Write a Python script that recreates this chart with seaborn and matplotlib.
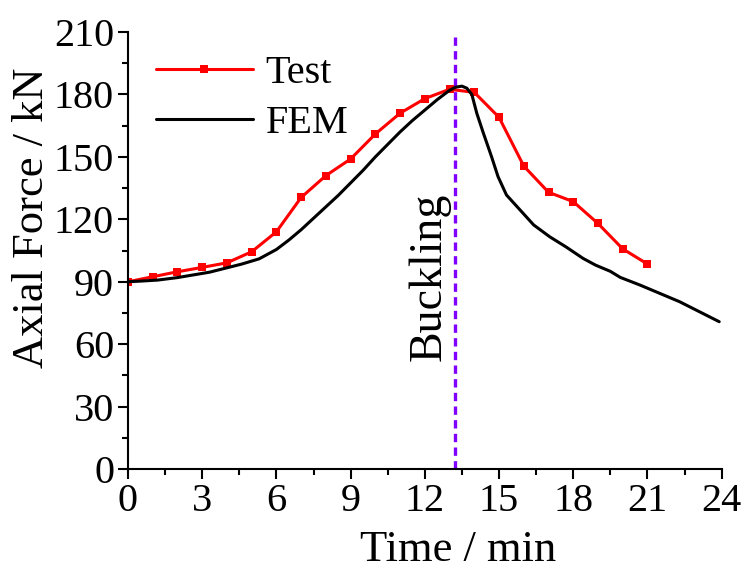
import matplotlib
matplotlib.use("Agg")
import matplotlib.pyplot as plt
import seaborn as sns
import pandas as pd
from matplotlib.ticker import MultipleLocator

# Data
test_time = [0, 1, 2, 3, 4, 5, 6, 7, 8, 9, 10, 11, 12, 13, 14, 15, 16, 17, 18, 19, 20, 21]
test_force = [90, 92.4, 94.8, 96.9, 99.1, 104.4, 114, 130.5, 141, 149, 161, 171, 178, 182.5, 181, 169, 145.6, 133, 128.5, 118, 105.8, 98.5]

fem_time = [0, 0.5, 1.2, 2.0, 2.6, 3.3, 3.9, 4.6, 5.3, 6.0, 6.5, 7.0, 7.5, 8.0, 8.5, 9.0, 9.5, 10.0, 10.5, 11.0, 11.5,
            12.0, 12.5, 13.0, 13.25, 13.5, 13.7, 13.9, 14.1, 14.35, 14.7, 14.96, 15.3, 15.85, 16.4, 17.05, 17.7,
            18.4, 18.9, 19.5, 19.9, 20.7, 21.5, 22.3, 23.1, 23.9]
fem_force = [90, 90.3, 90.8, 92.0, 93.2, 94.6, 96.4, 98.5, 101, 105.5, 110, 115, 120.5, 126, 131.5, 137.5, 143.5, 150,
             156, 162, 167.5, 172.5, 177.5, 182, 183.5, 184, 183, 180, 171, 162, 150, 140.5, 131.7, 124.5, 117.3,
             111.6, 106.8, 101.2, 98, 95, 92.1, 88.4, 84.4, 80.4, 75.6, 70.8]

buckling_time = 13.2

test_df = pd.DataFrame({"Time": test_time, "Force": test_force})
fem_df = pd.DataFrame({"Time": fem_time, "Force": fem_force})

sns.set_style("ticks")
plt.rcParams['font.family'] = ['Liberation Serif', 'DejaVu Serif']
plt.rcParams['text.color'] = 'black'
plt.rcParams['axes.labelcolor'] = 'black'
plt.rcParams['xtick.color'] = 'black'
plt.rcParams['ytick.color'] = 'black'

fig = plt.figure(figsize=(7.44, 5.72), dpi=100)
ax = fig.add_axes([0.172, 0.180, 0.798, 0.764])

sns.lineplot(data=test_df, x="Time", y="Force", ax=ax, color="#ff0000", linewidth=2.2,
             marker="s", markersize=6, markeredgewidth=0, label="Test", sort=False)
sns.lineplot(data=fem_df, x="Time", y="Force", ax=ax, color="black", linewidth=2.2,
             label="FEM", sort=False)

ax.axvline(buckling_time, color="#8000ff", linestyle=(0, (2.5, 1.6)), linewidth=2.4, zorder=1)
ax.text(12.2, 92.5, "Buckling", rotation=90, ha="center", va="center", fontsize=33, color="black")

ax.set_xlim(0, 24)
ax.set_ylim(0, 210)
ax.xaxis.set_major_locator(MultipleLocator(3))
ax.xaxis.set_minor_locator(MultipleLocator(1.5))
ax.yaxis.set_major_locator(MultipleLocator(30))
ax.yaxis.set_minor_locator(MultipleLocator(15))

ax.set_xlabel("Time / min", fontsize=32)
ax.set_ylabel("Axial Force / kN", fontsize=32)
ax.xaxis.set_label_coords(0.556, -0.14)
ax.yaxis.set_label_coords(-0.128, 0.575)

for side in ["top", "right"]:
    ax.spines[side].set_visible(False)
for side in ["left", "bottom"]:
    ax.spines[side].set_linewidth(1.5)
    ax.spines[side].set_color("black")

ax.tick_params(axis="both", which="major", direction="out", length=7, width=1.5, labelsize=29, pad=3, colors="black")
ax.tick_params(axis="both", which="minor", direction="out", length=4, width=1.5)

leg = ax.legend(loc="upper left", frameon=False, fontsize=29, handlelength=2.4, handletextpad=0.32,
                labelspacing=0.3, borderaxespad=0.0, bbox_to_anchor=(0.02, 0.984))

fig.savefig("out.png", dpi=100)
